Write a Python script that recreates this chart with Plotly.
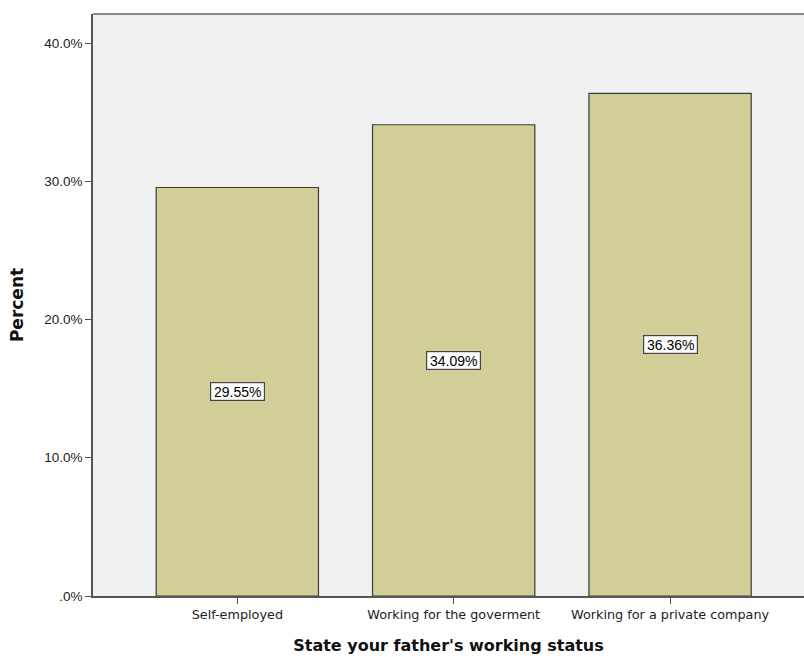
import plotly.graph_objects as go

categories = ["Self-employed", "Working for the goverment", "Working for a private company"]
percents = [29.55, 34.09, 36.36]
y_tick_vals = [0, 10, 20, 30, 40]
y_tick_text = [".0%", "10.0%", "20.0%", "30.0%", "40.0%"]

x_idx = list(range(len(categories)))

fig = go.Figure()
fig.add_trace(go.Bar(
    x=x_idx, y=percents, width=0.75,
    marker=dict(color="#D2CE98", line=dict(color="#3a3a3a", width=1.2)),
    hoverinfo="skip",
))

for i, v in zip(x_idx, percents):
    fig.add_annotation(
        x=i, y=v / 2, text=f"{v:.2f}%", showarrow=False,
        font=dict(family="Liberation Sans, Arial, sans-serif", size=14, color="#000"),
        bgcolor="white", bordercolor="#444", borderwidth=1.2, borderpad=1,
        width=51, height=15,
    )

fig.update_layout(
    width=804, height=657,
    margin=dict(l=93, r=0, t=14, b=61),
    paper_bgcolor="white", plot_bgcolor="#F0F0F0",
    showlegend=False,
    font=dict(family="Liberation Sans, Arial, sans-serif", size=12, color="#222"),
    xaxis=dict(
        range=[-0.667, 2.619],
        tickvals=x_idx, ticktext=categories,
        ticks="outside", ticklen=6, tickcolor="#555", tickwidth=1,
        showline=True, linecolor="#555", linewidth=1.5, mirror=False,
        showgrid=False, zeroline=False,
        tickfont=dict(family="DejaVu Sans, sans-serif", size=12.8, color="#222"),
        title=dict(text="<b>State your father's working status</b>",
                   font=dict(family="DejaVu Sans, sans-serif", size=16, color="#111"),
                   standoff=19),
    ),
    yaxis=dict(
        range=[0, 42.1],
        tickvals=y_tick_vals, ticktext=y_tick_text,
        ticks="outside", ticklen=6, tickcolor="#555", tickwidth=1,
        showline=True, linecolor="#555", linewidth=1.5,
        showgrid=False, zeroline=False,
        tickfont=dict(family="Liberation Sans, Arial, sans-serif", size=13.5, color="#222"),
        title=dict(text="<b>Percent</b>",
                   font=dict(family="DejaVu Sans, sans-serif", size=17, color="#111"),
                   standoff=16),
    ),
    shapes=[dict(type="line", xref="paper", yref="paper", x0=0, x1=1, y0=1, y1=1,
                 line=dict(color="#888", width=2))],
)

fig.write_html("out.html", config={"displayModeBar": False},
               post_script="document.body.style.margin='0';")
